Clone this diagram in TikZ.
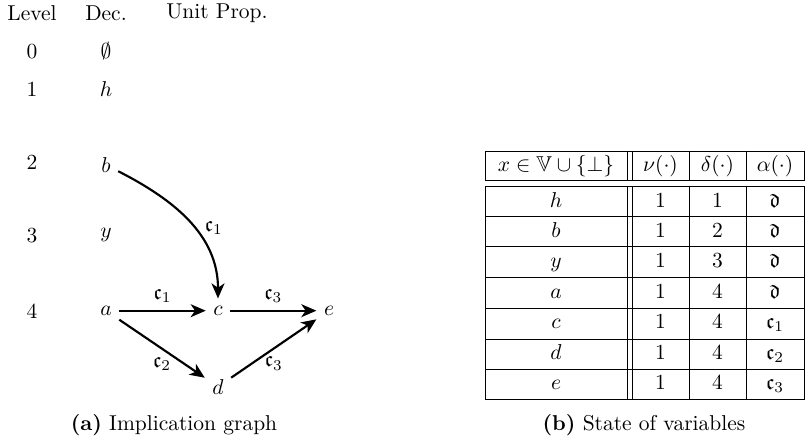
\documentclass[tikz,border=0pt]{standalone}
\usepackage{amssymb}
\usetikzlibrary{arrows.meta}

\begin{document}
\begin{tikzpicture}[x=0.4651pt,y=-0.4651pt,
  arr/.style={line width=1pt,-{Stealth[length=7pt,width=6pt,inset=2pt]}},
  cell/.style={text height=7pt,text depth=2pt,inner sep=0pt}]
\useasboundingbox (0,0) rectangle (806,441);
% implication graph
\node[anchor=base] (hdlevel) at (32,20.7) {Level};
\node[anchor=base] (hddec) at (106,20.7) {Dec.};
\node[anchor=base] (hdunit) at (217,18.5) {Unit Prop.};
\foreach \l/\y in {0/51.7,1/89.3,2/163,3/236,4/311.5}{\node (lvl\l) at (32,\y) {$\l$};}
\node (empty) at (106,51) {$\emptyset$};
\node (h) at (106,89) {$h$};
\node (b) at (106,165) {$b$};
\node (y) at (106,235) {$y$};
\node (a) at (106,310.7) {$a$};
\node (c) at (218,310.7) {$c$};
\node (e) at (329,310.7) {$e$};
\node (d) at (218,386.7) {$d$};
\draw[arr] (b) to[out=-27,in=90] node[pos=.55,right=1pt] {$\mathfrak{c}_1$} (c);
\draw[arr] (a) -- node[above] {$\mathfrak{c}_1$} (c);
\draw[arr] (c) -- node[above] {$\mathfrak{c}_3$} (e);
\draw[arr] (a) -- node[below] {$\mathfrak{c}_2$} (d);
\draw[arr] (d) -- node[below] {$\mathfrak{c}_3$} (e);
\node (capa) at (174,425) {\textbf{(a)} Implication graph};
% state of variables
\draw (485,151) rectangle (804,180.7);
\draw (485,186.7) rectangle (804,399);
\foreach \x in {627,632,689,746}{\draw (\x,151) -- (\x,180.7); \draw (\x,186.7) -- (\x,399);}
\foreach \y in {216.7,246.7,277.7,308.3,339,369}{\draw (485,\y) -- (804,\y);}
\foreach \x/\s [count=\i] in {556/x\in\mathbb{V}\cup\{\bot\},660.5/\nu(\cdot),717.5/\delta(\cdot),775/\alpha(\cdot)}{\node[cell] (hd\i) at (\x,165.9) {$\s$};}
\foreach \v/\dl/\al [count=\i] in {h/1/\mathfrak{d},b/2/\mathfrak{d},y/3/\mathfrak{d},a/4/\mathfrak{d},c/4/\mathfrak{c}_1,d/4/\mathfrak{c}_2,e/4/\mathfrak{c}_3}{
  \node[cell] (var\i) at (556,171.3+\i*30.4) {$\v$};
  \node[cell] (nu\i) at (660.5,171.3+\i*30.4) {$1$};
  \node[cell] (dl\i) at (717.5,171.3+\i*30.4) {$\dl$};
  \node[cell] (al\i) at (775,171.3+\i*30.4) {$\al$};
}
\node (capb) at (644,425) {\textbf{(b)} State of variables};
\end{tikzpicture}
\end{document}
